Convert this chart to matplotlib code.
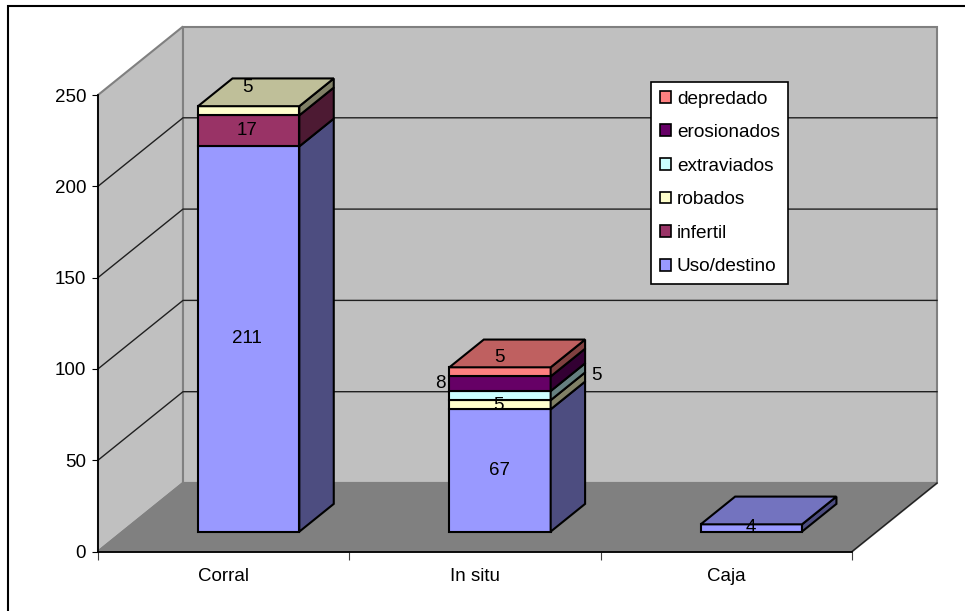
"""3D-look stacked columns (oblique projection) drawn on a plain 2D axes."""
import matplotlib
matplotlib.use("Agg")
import matplotlib.pyplot as plt
from matplotlib.patches import Patch, Polygon, Rectangle

plt.rcParams["font.family"] = ["Liberation Sans", "DejaVu Sans"]

categories = ["Corral", "In situ", "Caja"]
series = ["Uso/destino", "infertil", "robados", "extraviados", "erosionados", "depredado"]
uso = [211, 67, 4]
infertil = [17, 0, 0]
robados = [5, 5, 0]
extraviados = [0, 5, 0]
erosionados = [0, 8, 0]
depredado = [0, 5, 0]
values = [uso, infertil, robados, extraviados, erosionados, depredado]
colors = ["#9999FF", "#993366", "#FFFFCC", "#CCFFFF", "#660066", "#FF8080"]
y_ticks = [0, 50, 100, 150, 200, 250]

W, H = 965, 611
LEFT, RIGHT, BOTTOM, TOP = 98, 852, 551.5, 95  # plot box, pixels
YMAX = 250
FS = 13.5

fig = plt.figure(figsize=(W / 100, H / 100), dpi=100, facecolor="white")
ax = fig.add_axes([LEFT / W, 1 - BOTTOM / H, (RIGHT - LEFT) / W, (BOTTOM - TOP) / H])
ax.set_xlim(0, len(categories))
ax.set_ylim(0, YMAX)
ax.patch.set_visible(False)

# depth of the box, in data units
DX = 85 / ((RIGHT - LEFT) / len(categories))
DY = 68.5 / ((BOTTOM - TOP) / YMAX)


def proj(x, v, z):
    return x + z * DX, v + z * DY


def face(points, color, **kw):
    kw.setdefault("edgecolor", "black")
    kw.setdefault("linewidth", 1.5)
    ax.add_patch(Polygon([proj(*p) for p in points], closed=True, facecolor=color,
                         clip_on=False, **kw))


def shade(hex_color, f):
    rgb = matplotlib.colors.to_rgb(hex_color)
    return tuple(c * f for c in rgb)


n = len(categories)
# walls + floor
face([(0, 0, 0), (0, YMAX, 0), (0, YMAX, 1), (0, 0, 1)], "#C0C0C0", edgecolor="#808080", zorder=1)
face([(0, 0, 1), (0, YMAX, 1), (n, YMAX, 1), (n, 0, 1)], "#C0C0C0", edgecolor="#808080", zorder=1)
face([(0, 0, 0), (n, 0, 0), (n, 0, 1), (0, 0, 1)], "#808080", edgecolor="#808080", zorder=1.1)
ax.plot(*zip(proj(n, 0, 0), proj(n, 0, 1)), color="#202020", lw=1, clip_on=False, zorder=1.2)

# gridlines on left and back wall
for t in y_ticks[1:-1]:
    pts = [proj(0, t, 0), proj(0, t, 1), proj(n, t, 1)]
    ax.plot(*zip(*pts), color="#202020", lw=1, clip_on=False, zorder=1.5)

# bars
Z0, Z1 = 0.29, 0.695
X0, X1 = 0.30, 0.703
for i in range(n):
    base = 0
    x0, x1 = i + X0, i + X1
    stack = [(values[s][i], colors[s]) for s in range(len(series)) if values[s][i] > 0]
    for v, col in stack:
        top = base + v
        face([(x0, base, Z0), (x1, base, Z0), (x1, top, Z0), (x0, top, Z0)], col, zorder=3)
        face([(x1, base, Z0), (x1, base, Z1), (x1, top, Z1), (x1, top, Z0)], shade(col, 0.5), zorder=3)
        base = top
    col = stack[-1][1]
    face([(x0, base, Z0), (x1, base, Z0), (x1, base, Z1), (x0, base, Z1)], shade(col, 0.75), zorder=3)

# data labels; offsets (pixels) for the ones moved off their segment
label_offsets = {(2, 0): (-1, 23), (5, 1): (0, 14), (4, 1): (-59, 0), (3, 1): (97, 20),
                 (2, 1): (-1, -1), (0, 0): (-1, 0), (1, 0): (-1, 0)}
for s in range(len(series)):
    for i in range(n):
        v = values[s][i]
        if v <= 0:
            continue
        below = sum(values[k][i] for k in range(s))
        xc, yc = proj(i + 0.5, below + v / 2, Z0)
        ax.annotate(str(v), xy=(xc, yc), xytext=label_offsets.get((s, i), (0, 0)),
                    textcoords="offset pixels", ha="center", va="center",
                    fontsize=FS, color="black", zorder=5, annotation_clip=False)

# axes
for side in ["top", "right"]:
    ax.spines[side].set_visible(False)
for side in ["left", "bottom"]:
    ax.spines[side].set_linewidth(1.3)
    ax.spines[side].set_zorder(2)
ax.set_yticks(y_ticks)
ax.tick_params(axis="y", length=4.5, width=0.8, labelsize=FS, pad=4)
ax.set_xticks(range(n + 1))
ax.set_xticklabels([])
ax.tick_params(axis="x", which="major", length=6, width=0.8, color="#404040")
ax.set_xticks([i + 0.5 for i in range(n)], minor=True)
ax.set_xticklabels(categories, minor=True, fontsize=FS)
ax.tick_params(axis="x", which="minor", length=0, pad=12)

# legend
handles = [Patch(facecolor=colors[s], edgecolor="black", linewidth=1.2, label=series[s])
           for s in reversed(range(len(series)))]
leg = ax.legend(handles=handles, loc="upper left", bbox_to_anchor=(651 / W, 1 - 82 / H),
                bbox_transform=fig.transFigure, borderaxespad=0, fontsize=13.7, frameon=True,
                fancybox=False, framealpha=1, edgecolor="black", labelspacing=0.87,
                handlelength=0.58, handleheight=0.58, handletextpad=0.33, borderpad=0.45)
leg.get_frame().set_linewidth(1.2)
leg.set_zorder(6)

# chart area border, cut off at the right and bottom of the picture
fig.add_artist(Rectangle((7.5 / W, -0.1), 1.2, 1 - 6 / H + 0.1, transform=fig.transFigure,
                         fill=False, edgecolor="black", linewidth=1.5))

fig.savefig("out.png", dpi=100)
